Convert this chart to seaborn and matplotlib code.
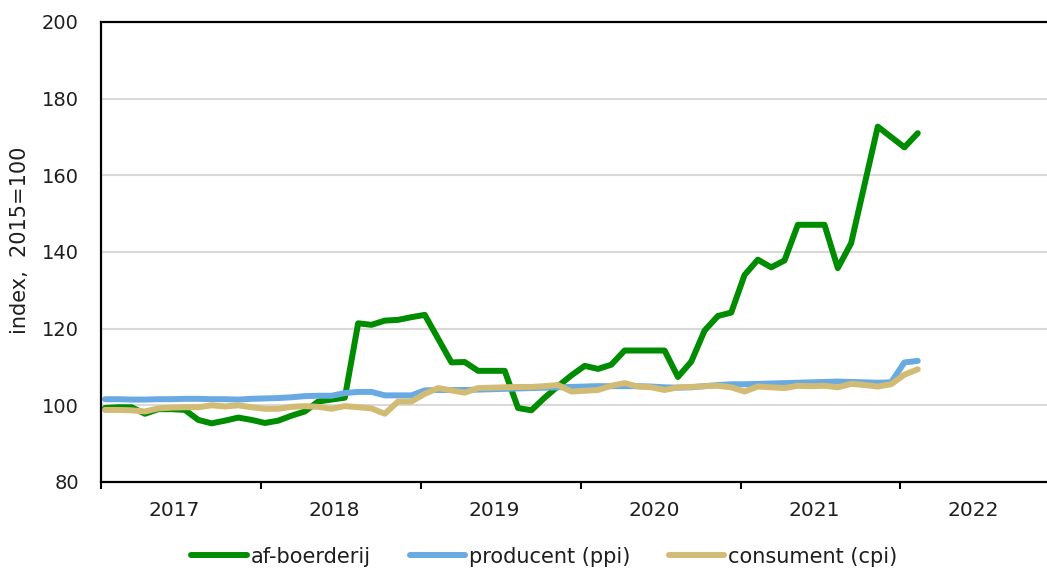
import numpy as np
import pandas as pd
import matplotlib
matplotlib.use("Agg")
import matplotlib.pyplot as plt
from matplotlib.ticker import FixedLocator, NullFormatter, FixedFormatter
import seaborn as sns

# Monthly index values (2015=100), January 2017 through February 2022
af_boerderij = [
    99.3, 99.5, 99.5, 97.8, 99.0, 99.0, 98.8, 96.2, 95.3, 96.0, 96.8, 96.2,
    95.4, 96.0, 97.3, 98.4, 101.0, 101.5, 102.0, 121.4, 121.0, 122.1, 122.3, 123.0,
    123.6, 117.4, 111.2, 111.3, 109.0, 109.0, 109.0, 99.3, 98.7, 102.0, 105.0, 107.8,
    110.3, 109.5, 110.6, 114.3, 114.3, 114.3, 114.3, 107.4, 111.4, 119.5, 123.3, 124.2,
    134.0, 138.0, 136.0, 137.8, 147.1, 147.1, 147.1, 135.8, 142.3, 157.5, 172.7, 170.0,
    167.3, 171.0,
]
producent_ppi = [
    101.6, 101.6, 101.5, 101.5, 101.6, 101.6, 101.7, 101.7, 101.6, 101.6, 101.5, 101.7,
    101.8, 101.9, 102.1, 102.4, 102.5, 102.5, 103.2, 103.5, 103.5, 102.6, 102.6, 102.6,
    103.9, 104.0, 104.0, 104.0, 104.1, 104.2, 104.3, 104.4, 104.5, 104.6, 104.7, 104.8,
    104.9, 105.0, 105.0, 105.0, 105.0, 104.9, 104.7, 104.6, 104.7, 105.0, 105.3, 105.5,
    105.5, 105.6, 105.7, 105.8, 105.9, 106.0, 106.1, 106.2, 106.1, 106.0, 105.9, 106.0,
    111.2, 111.6,
]
consument_cpi = [
    98.8, 98.8, 98.7, 98.4, 99.2, 99.4, 99.5, 99.5, 100.0, 99.7, 100.0, 99.5,
    99.1, 99.1, 99.6, 99.8, 99.6, 99.1, 99.8, 99.5, 99.2, 97.8, 101.0, 101.0,
    103.0, 104.5, 103.9, 103.3, 104.5, 104.6, 104.7, 104.8, 104.8, 105.0, 105.3, 103.6,
    103.8, 104.0, 105.1, 105.8, 104.9, 104.7, 104.0, 104.7, 104.8, 105.0, 105.1, 104.7,
    103.6, 104.9, 104.7, 104.5, 105.1, 105.0, 105.1, 104.7, 105.6, 105.3, 104.9, 105.5,
    108.0, 109.4,
]
series_names = ["af-boerderij", "producent (ppi)", "consument (cpi)"]
series_colors = ["#008c00", "#6aaae2", "#d2bb75"]
year_labels = ["2017", "2018", "2019", "2020", "2021", "2022"]
y_ticks = [80, 100, 120, 140, 160, 180, 200]

# Months counted from the start of January 2017; each value sits within its month
n = len(af_boerderij)
month_pos = np.arange(n) + 0.3
frames = []
for name, vals in zip(series_names, [af_boerderij, producent_ppi, consument_cpi]):
    frames.append(pd.DataFrame({"maand": month_pos, "index": vals, "reeks": name}))
df = pd.concat(frames, ignore_index=True)

sns.set_theme(style="white")
plt.rcParams["font.family"] = ["DejaVu Sans"]
text_color = "#1e1e1e"

fig = plt.figure(figsize=(10.47, 5.74), dpi=100)
ax = fig.add_axes([101 / 1047, 1 - 482 / 574, 1 - 101 / 1047, (482 - 22) / 574])

sns.lineplot(
    data=df, x="maand", y="index", hue="reeks", hue_order=series_names,
    palette=series_colors, linewidth=4.3, sort=False, ax=ax,
    solid_capstyle="round", solid_joinstyle="round",
)

ax.set_xlim(0, 71)
ax.set_ylim(80, 200)

# Horizontal gridlines
ax.set_yticks(y_ticks)
ax.set_yticklabels([str(v) for v in y_ticks])
for v in y_ticks[1:-1]:
    ax.axhline(v, color="#d9d9d9", linewidth=1.5, zorder=0)
ax.grid(False)

# Year boundaries as tick marks, year names centred in between
ax.xaxis.set_major_locator(FixedLocator([0, 12, 24, 36, 48, 60]))
ax.xaxis.set_major_formatter(NullFormatter())
ax.xaxis.set_minor_locator(FixedLocator([12 * k + 5.5 for k in range(len(year_labels))]))
ax.xaxis.set_minor_formatter(FixedFormatter(year_labels))
ax.tick_params(axis="x", which="major", direction="out", length=5, width=1.5,
               color="black", bottom=True)
ax.tick_params(axis="x", which="minor", length=0, pad=14, labelsize=14.5,
               labelcolor=text_color)
ax.tick_params(axis="y", length=0, pad=16, labelsize=14, labelcolor=text_color)

for side in ["left", "bottom", "top"]:
    ax.spines[side].set_visible(True)
    ax.spines[side].set_color("black")
    ax.spines[side].set_linewidth(1.6)
ax.spines["right"].set_visible(False)

ax.set_xlabel("")
ax.set_ylabel("")
fig.text(0.019, 0.582, "index,  2015=100", rotation=90, ha="center", va="center",
         fontsize=15, color=text_color)

handles, labels = ax.get_legend_handles_labels()
ax.get_legend().remove()
leg = fig.legend(
    handles, labels, loc="center", bbox_to_anchor=(0.52, 0.03), ncol=3,
    frameon=False, fontsize=15, handlelength=2.65, handletextpad=0.2,
    columnspacing=1.85, labelcolor=text_color,
)
for line in leg.get_lines():
    line.set_linewidth(4.3)
    line.set_solid_capstyle("round")

fig.savefig("out.png", dpi=100)
